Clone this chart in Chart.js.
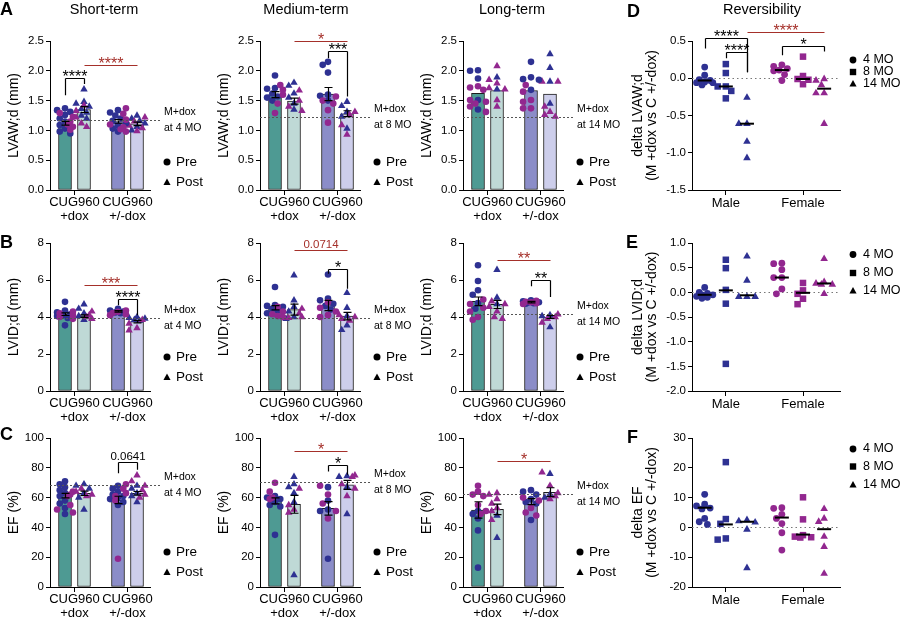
<!DOCTYPE html>
<html>
<head>
<meta charset="utf-8">
<title>CUG960 echo panels</title>
<script src="https://cdn.jsdelivr.net/npm/chart.js@4.4.1/dist/chart.umd.min.js"></script>
<style>
  html, body { margin: 0; padding: 0; background: #fff; }
  body { position: relative; width: 900px; height: 621px; overflow: hidden; }
  canvas { position: absolute; }
</style>
</head>
<body>
<script>
/* Echo panels A–F: bars + scatter (Chart.js) */
const FONT = "'Liberation Sans', Arial, Helvetica, sans-serif";
Chart.defaults.font.family = FONT;
Chart.defaults.color = '#000';

const BLUE = '#2E3192', PURPLE = '#92278F', RED = '#A5302A';
const BAR_FILL = ['#4E9A93', '#BFD9D6', '#8B8DC8', '#CDCEEB'];

// categories
const terms = ['Short-term', 'Medium-term', 'Long-term'];
const barGroups = [['CUG960', '+dox'], ['CUG960', '+/-dox']];
const phases = ['Pre', 'Post'];
const sexes = ['Male', 'Female'];
const ages = ['4 MO', '8 MO', '14 MO'];

// tick labels
const lvawTicks = [0, 0.5, 1, 1.5, 2, 2.5];
const lvidTicks = [0, 2, 4, 6, 8];
const efTicks = [0, 20, 40, 60, 80, 100];
const dLvawTicks = [-1.5, -1, -0.5, 0, 0.5];
const dLvidTicks = [-2, -1.5, -1, -0.5, 0, 0.5, 1];
const dEfTicks = [-20, -10, 0, 10, 20, 30];

// M+dox reference levels (short, medium, long)
const lvawRef = [1.17, 1.23, 1.23];
const lvidRef = [3.93, 3.93, 4.18];
const efRef = [68.5, 70.3, 62.2];

// A — LVAW;d, bars: +dox Pre, +dox Post, +/-dox Pre, +/-dox Post
const lvawShortMean = [1.12, 1.35, 1.15, 1.11];
const lvawShortSem = [0.03, 0.05, 0.03, 0.03];
const lvawShortBlue = [[1.37, 1.34, 1.31, 1.26, 1.20, 1.15, 1.09, 1.03, 0.98, 0.95], [1.69, 1.48, 1.45, 1.40, 1.36, 1.30, 1.25, 1.20], [1.34, 1.30, 1.25, 1.20, 1.16, 1.12, 1.08, 1.03, 0.98], [1.25, 1.20, 1.16, 1.12, 1.06, 1.00]];
const lvawShortPurple = [[1.29, 1.23, 1.15, 1.10, 1.06, 1.01], [1.42, 1.33, 1.22, 1.12, 1.06], [1.37, 1.28, 1.18, 1.10, 1.05, 1.02, 0.98], [1.22, 1.15, 1.08, 1.04, 0.99]];

const lvawMedMean = [1.60, 1.49, 1.61, 1.28];
const lvawMedSem = [0.05, 0.05, 0.11, 0.05];
const lvawMedBlue = [[1.92, 1.71, 1.70, 1.62, 1.57, 1.55, 1.50], [1.80, 1.75, 1.62, 1.55, 1.45, 1.35], [2.15, 2.10, 1.97, 1.60, 1.58, 1.50], [1.48, 1.41, 1.31, 1.23, 1.03]];
const lvawMedPurple = [[1.76, 1.68, 1.60, 1.45, 1.29], [1.67, 1.50, 1.40, 1.33], [1.57, 1.50, 1.45, 1.34, 1.13], [1.31, 1.26, 1.09, 0.93]];

const lvawLongMean = [1.62, 1.67, 1.67, 1.61];
const lvawLongSem = [0, 0, 0, 0];
const lvawLongBlue = [[2.01, 2.00, 1.87, 1.51, 1.35], [1.89, 1.69], [2.15, 1.89, 1.86, 1.85, 1.68], [2.28, 2.05, 1.82, 1.45]];
const lvawLongPurple = [[1.74, 1.72, 1.68, 1.51, 1.48, 1.45, 1.40, 1.31], [2.08, 1.85, 1.79, 1.71, 1.69, 1.51, 1.40], [1.76, 1.65, 1.51, 1.48, 1.37, 1.37], [1.82, 1.82, 1.40, 1.31, 1.26, 1.23]];

// B — LVID;d
const lvidShortMean = [4.15, 4.05, 4.30, 3.75];
const lvidShortSem = [0.07, 0.07, 0.04, 0.07];
const lvidShortBlue = [[4.82, 4.35, 4.25, 4.15, 4.10, 4.05, 3.95, 3.55], [4.68, 4.45, 4.20, 4.05, 3.85], [4.45, 4.35, 4.30, 4.25, 4.20], [4.00, 3.95, 3.92, 3.85, 3.80]];
const lvidShortPurple = [[4.30, 4.20, 4.10, 4.00, 3.90], [4.30, 4.10, 4.00, 3.90], [4.35, 4.28, 4.22, 4.15, 4.10], [3.85, 3.64, 3.40, 3.28]];

const lvidMedMean = [4.50, 4.40, 4.62, 4.05];
const lvidMedSem = [0.12, 0.30, 0.28, 0.20];
const lvidMedBlue = [[5.62, 4.65, 4.60, 4.55, 4.45, 4.35, 4.20], [6.25, 4.90, 4.55, 4.30, 4.00, 3.90], [6.30, 5.00, 4.90, 4.72, 4.60, 4.40], [5.30, 4.50, 4.05, 3.55, 3.30]];
const lvidMedPurple = [[4.55, 4.30, 4.15, 4.05, 4.00], [4.45, 4.20, 4.00, 3.95], [4.80, 4.50, 4.30, 4.10, 4.00], [4.10, 4.00, 3.90, 3.80]];

const lvidLongMean = [4.85, 4.68, 4.80, 4.00];
const lvidLongSem = [0.23, 0.22, 0.04, 0.08];
const lvidLongBlue = [[6.80, 5.95, 5.45, 5.20, 4.75, 4.45], [6.55, 5.05, 4.70], [4.90, 4.85, 4.80, 4.78, 4.75, 4.72], [4.10, 4.05, 3.45]];
const lvidLongPurple = [[4.95, 4.70, 4.50, 4.30, 4.00, 3.85], [4.85, 4.70, 4.55, 4.30, 4.00, 3.90], [4.88, 4.82, 4.80, 4.75, 4.70], [4.15, 4.00, 3.90, 3.70]];

// C — EF
const efShortMean = [61.3, 62.9, 58.4, 62.9];
const efShortSem = [1.5, 1.5, 2.5, 1.2];
const efShortBlue = [[71, 69, 67, 65, 63, 61, 58, 56, 53, 49], [69, 68, 66, 63, 60, 52], [68, 66, 64, 62, 61, 60, 59, 57, 55], [68, 66, 63, 61, 57]];
const efShortPurple = [[64, 62, 61, 55, 52, 50], [66, 64, 62, 61], [69, 66, 63, 61, 58, 19], [75, 71, 68, 65, 62, 60]];

const efMedMean = [57.8, 55.5, 52.8, 68.5];
const efMedSem = [2, 6, 4.5, 3];
const efMedBlue = [[61, 60, 59, 57, 55, 54, 35], [74, 69, 67, 63, 57, 8], [67, 58, 52, 51, 19], [74.5, 74, 67, 49]];
const efMedPurple = [[70, 64, 60, 59], [66, 55, 52, 50], [68, 62, 56, 51, 46], [75, 74, 69, 66, 61]];

const efLongMean = [51.7, 52.1, 57.3, 63.6];
const efLongSem = [5.5, 3.5, 2, 3];
const efLongBlue = [[51, 49, 46, 38, 13], [48, 33], [65, 64, 62, 59, 57, 56, 45], [76, 62, 60]];
const efLongPurple = [[68, 64, 62, 61, 55, 51, 49], [63, 62, 59, 56, 53, 51, 45], [60, 58, 53, 50, 48], [77, 68, 63, 61, 59]];

// D–F — deltas (M +dox vs C +/-dox), per age 4 / 8 / 14 MO
const dLvawMale = [[0.15, 0.04, -0.02, -0.03, -0.05, -0.06, -0.06, -0.09], [0.19, 0.07, -0.11, -0.11, -0.17, -0.27], [-0.26, -0.61, -0.61, -0.85, -1.07]];
const dLvawFemale = [[0.18, 0.16, 0.13, 0.11, 0.10, 0.05, -0.03], [0.29, 0.03, -0.01, -0.02, -0.08], [-0.01, -0.03, -0.09, -0.20, -0.20, -0.61]];
const dLvawMedMale = [-0.03, -0.11, -0.61];
const dLvawMedFemale = [0.11, -0.01, -0.14];

const dLvidMale = [[0.10, 0.00, -0.02, -0.05, -0.05, -0.08, -0.10, -0.12], [0.66, 0.49, 0.05, -0.23, -1.45], [0.73, 0.24, -0.09, -0.09, -0.09]];
const dLvidFemale = [[0.59, 0.58, 0.46, 0.30, 0.30, 0.07, -0.03], [0.19, 0.04, -0.03, -0.13, -0.24], [0.68, 0.21, 0.18, 0.16, 0.16, -0.03]];
const dLvidMedMale = [-0.05, 0.04, -0.06];
const dLvidMedFemale = [0.30, -0.01, 0.18];

const dEfMale = [[11.1, 7.8, 7.2, 6.5, 6.2, 3.0, 1.9, 1.0], [21.9, 2.8, 1.2, -3.7, -4.1], [2.5, 2.1, 1.7, -0.7, -13.6]];
const dEfFemale = [[6.6, 6.4, 4.4, 3.0, 1.3, -1.8, -7.6], [10.1, 2.7, -2.6, -3.1, -3.3, -3.4], [6.2, 3.0, 1.9, -3.1, -6.5, -15.5]];
const dEfMedMale = [6.6, 1.0, 1.9];
const dEfMedFemale = [3.3, -2.4, -0.6];

// layout (px) and category positions on the linear x scales
const colLeft = [50, 260, 463];
const rowY = [[41, 190], [243, 391], [438, 587]];
const barX = [0.75, 1.7, 3.4, 4.35];
const groupX = [1.225, 3.875];
const ageX = [0.6, 1.6, 2.6, 4.25, 5.25, 6.25];
const sexX = [1.6, 5.25];

// page canvas for panel letters and column titles
const page = document.createElement('canvas');
page.width = 900; page.height = 621;
page.style.left = '0px'; page.style.top = '0px';
document.body.appendChild(page);
(function () {
  const g = page.getContext('2d');
  g.fillStyle = '#000';
  g.textBaseline = 'alphabetic';
  g.font = 'bold 18px ' + FONT;
  [['A', 0, 15], ['B', 0, 248], ['C', 0, 440], ['D', 627, 17], ['E', 626, 248], ['F', 627, 443]]
    .forEach(([t, x, y]) => g.fillText(t, x, y));
  g.font = '14.5px ' + FONT;
  g.textAlign = 'center';
  [[terms[0], 104], [terms[1], 306], [terms[2], 512], ['Reversibility', 762]]
    .forEach(([t, x]) => g.fillText(t, x, 14));
})();

function swarm(vals, yPx, r, maxOff) {
  const step = r * 0.8;
  const cands = [0];
  for (let k = 1; k * step <= maxOff + 0.01; k++) cands.push(-k * step, k * step);
  const placed = [];
  return vals.map(v => {
    let best = 0, bestD = -1;
    for (const c of cands) {
      let dmin = Infinity;
      for (const p of placed) dmin = Math.min(dmin, Math.hypot(c - p[0], (v - p[1]) * yPx));
      if (dmin >= 1.8 * r) { best = c; break; }
      if (dmin > bestD) { bestD = dmin; best = c; }
    }
    placed.push([best, v]);
    return best;
  });
}

function marker(ctx, style, x, y, r) {
  ctx.beginPath();
  if (style === 'circle') ctx.arc(x, y, r, 0, Math.PI * 2);
  else if (style === 'rect') ctx.rect(x - r, y - r, 2 * r, 2 * r);
  else { ctx.moveTo(x, y - r * 1.15); ctx.lineTo(x + r * 1.05, y + r * 0.75); ctx.lineTo(x - r * 1.05, y + r * 0.75); ctx.closePath(); }
  ctx.fill();
}

function drawSig(ctx, xs, ys, s, xpos) {
  const xa = Math.round(xs.getPixelForValue(xpos[s.a])) + 0.5;
  const xb = Math.round(xs.getPixelForValue(xpos[s.b])) + 0.5;
  const yy = Math.round(ys.getPixelForValue(s.y)) + 0.5;
  const col = s.red ? RED : '#000';
  ctx.strokeStyle = col; ctx.fillStyle = col; ctx.lineWidth = 1.2;
  ctx.beginPath();
  ctx.moveTo(xa, yy); ctx.lineTo(xb, yy);
  if (s.ya != null) { ctx.moveTo(xa, yy); ctx.lineTo(xa, ys.getPixelForValue(s.ya)); }
  if (s.yb != null) { ctx.moveTo(xb, yy); ctx.lineTo(xb, ys.getPixelForValue(s.yb)); }
  ctx.stroke();
  ctx.textAlign = 'center'; ctx.textBaseline = 'alphabetic';
  if (/^\*+$/.test(s.text)) { ctx.font = '16px ' + FONT; ctx.fillText(s.text, (xa + xb) / 2, yy + 3); }
  else { ctx.font = '11.5px ' + FONT; ctx.fillText(s.text, (xa + xb) / 2, yy - 3); }
}

function yTitle(ctx, a, lines, offs, size) {
  ctx.fillStyle = '#000';
  ctx.font = size + 'px ' + FONT;
  ctx.textAlign = 'center'; ctx.textBaseline = 'middle';
  lines.forEach((t, i) => {
    ctx.save();
    ctx.translate(a.left - offs[i], (a.top + a.bottom) / 2);
    ctx.rotate(-Math.PI / 2);
    ctx.fillText(t, 0, 0);
    ctx.restore();
  });
}

function axisOpts(ticks, dec, width, size) {
  return {
    type: 'linear', min: ticks[0], max: ticks[ticks.length - 1],
    afterBuildTicks: s => { s.ticks = ticks.map(v => ({ value: v })); },
    afterFit: s => { s.width = width; },
    grid: { drawOnChartArea: false, drawTicks: true, tickLength: 4, color: '#000', lineWidth: 1 },
    border: { display: true, color: '#000', width: 1 },
    ticks: { padding: 2, color: '#000', font: { size: size }, callback: v => v.toFixed(dec) }
  };
}

function makeCanvas(left, top, w, h) {
  const cv = document.createElement('canvas');
  cv.width = w; cv.height = h;
  cv.style.left = left + 'px'; cv.style.top = top + 'px';
  document.body.appendChild(cv);
  return cv;
}

const legendRowY = [[-28, -7.5], [-34, -13.5], [-35, -14.5]];

function barPanel(col, row, mean, sem, blue, purple, ticks, dec, title, ref, sig) {
  const W = 100, YW = 60, PT = 42, PR = 75, XH = 36;
  const [top, bottom] = rowY[row];
  const H = bottom - top;
  const cv = makeCanvas(colLeft[col] - YW, top - PT, YW + W + PR, PT + H + XH);
  const yPx = H / (ticks[ticks.length - 1] - ticks[0]), xPx = W / 5;

  const datasets = [{
    type: 'bar', order: 3,
    data: mean.map((m, i) => ({ x: barX[i], y: m })),
    backgroundColor: BAR_FILL, borderColor: '#1c1c1c', borderWidth: 1, barThickness: 13, borderSkipped: false
  }];
  mean.forEach((m, i) => {
    const vals = blue[i].concat(purple[i]);
    const cols = blue[i].map(() => BLUE).concat(purple[i].map(() => PURPLE));
    const offs = swarm(vals, yPx, 3.3, 8);
    datasets.push({
      type: 'scatter', order: 1,
      data: vals.map((v, k) => ({ x: barX[i] + offs[k] / xPx, y: v })),
      pointStyle: i % 2 ? 'triangle' : 'circle',
      pointRadius: i % 2 ? 4.3 : 3.3,
      pointBackgroundColor: cols, pointBorderWidth: 0
    });
  });

  const decor = {
    id: 'decor',
    afterDatasetsDraw(chart) {
      const { ctx, chartArea: a, scales: { x, y } } = chart;
      ctx.save();
      // error bars (mean ± SEM)
      ctx.strokeStyle = '#000'; ctx.lineWidth = 1.2;
      mean.forEach((m, i) => {
        if (!sem[i]) return;
        const px = Math.round(x.getPixelForValue(barX[i])) + 0.5;
        const y1 = y.getPixelForValue(m + sem[i]), y2 = y.getPixelForValue(m - sem[i]);
        ctx.beginPath();
        ctx.moveTo(px, y1); ctx.lineTo(px, y2);
        ctx.moveTo(px - 4, y1); ctx.lineTo(px + 4, y1);
        ctx.moveTo(px - 4, y2); ctx.lineTo(px + 4, y2);
        ctx.stroke();
      });
      // M+dox reference line
      const ry = Math.round(y.getPixelForValue(ref)) + 0.5;
      ctx.strokeStyle = '#555'; ctx.lineWidth = 1; ctx.setLineDash([2, 2]);
      ctx.beginPath(); ctx.moveTo(a.left, ry); ctx.lineTo(a.right + 10, ry); ctx.stroke();
      ctx.setLineDash([]);
      ctx.fillStyle = '#000'; ctx.font = '10.5px ' + FONT; ctx.textAlign = 'left'; ctx.textBaseline = 'middle';
      ctx.fillText('M+dox', a.right + 14, ry - 8);
      ctx.fillText('at ' + ages[col], a.right + 14, ry + 8);
      // significance
      sig.forEach(s => drawSig(ctx, x, y, s, barX));
      // legend
      ctx.fillStyle = '#000'; ctx.font = '13.5px ' + FONT; ctx.textAlign = 'left'; ctx.textBaseline = 'middle';
      phases.forEach((t, i) => {
        const ly = a.bottom + legendRowY[row][i];
        marker(ctx, i ? 'triangle' : 'circle', a.right + 17, ly, i ? 3.4 : 3.5);
        ctx.fillText(t, a.right + 26, ly);
      });
      yTitle(ctx, a, [title], [36], 14);
      ctx.restore();
    }
  };

  new Chart(cv, {
    type: 'bar',
    data: { datasets },
    options: {
      responsive: false, animation: false, events: [],
      layout: { padding: { left: 0, top: PT, right: PR, bottom: 0 }, autoPadding: false },
      plugins: { legend: { display: false }, tooltip: { enabled: false } },
      scales: {
        x: {
          type: 'linear', min: 0, max: 5, offset: false,
          afterBuildTicks: s => { s.ticks = groupX.map(v => ({ value: v })); },
          afterFit: s => { s.height = XH; },
          grid: { offset: false, drawOnChartArea: false, drawTicks: true, tickLength: 5, color: '#000', lineWidth: 1 },
          border: { display: true, color: '#000', width: 1 },
          ticks: { autoSkip: false, maxRotation: 0, padding: 1, color: '#000', font: { size: 13, lineHeight: 1.05 }, callback: (v, i) => barGroups[i] }
        },
        y: axisOpts(ticks, dec, YW, 11.5)
      }
    },
    plugins: [decor]
  });
}

const legendDeltaY = [[19, 31, 43], [11.5, 30, 48], [11, 28.5, 47]];

function deltaPanel(row, male, female, medMale, medFemale, ticks, dec, titleLines, sig) {
  const W = 148, YW = 75, PT = 42, PR = 62, XH = 36;
  const [top, bottom] = rowY[row];
  const H = bottom - top;
  const cv = makeCanvas(692 - YW, top - PT, YW + W + PR, PT + H + XH);
  const yPx = H / (ticks[ticks.length - 1] - ticks[0]), xPx = W / 7;
  const styles = ['circle', 'rect', 'triangle'];
  const radii = [3.4, 4.6, 4.4];

  const datasets = [];
  [male, female].forEach((grp, si) => {
    grp.forEach((vals, ai) => {
      const offs = swarm(vals, yPx, 3.4, 10);
      const cx = ageX[si * 3 + ai];
      datasets.push({
        type: 'scatter',
        data: vals.map((v, k) => ({ x: cx + offs[k] / xPx, y: v })),
        pointStyle: styles[ai], pointRadius: radii[ai],
        pointBackgroundColor: si ? PURPLE : BLUE, pointBorderWidth: 0
      });
    });
  });

  const decor = {
    id: 'decor',
    beforeDatasetsDraw(chart) {
      const { ctx, chartArea: a, scales: { y } } = chart;
      const zy = Math.round(y.getPixelForValue(0)) + 0.5;
      ctx.save();
      ctx.strokeStyle = '#777'; ctx.lineWidth = 1.2; ctx.setLineDash([1.5, 3]);
      ctx.beginPath(); ctx.moveTo(a.left, zy); ctx.lineTo(a.right, zy); ctx.stroke();
      ctx.restore();
    },
    afterDatasetsDraw(chart) {
      const { ctx, chartArea: a, scales: { x, y } } = chart;
      ctx.save();
      // medians
      ctx.strokeStyle = '#000'; ctx.lineWidth = 2;
      medMale.concat(medFemale).forEach((m, i) => {
        const px = x.getPixelForValue(ageX[i]), py = y.getPixelForValue(m);
        ctx.beginPath(); ctx.moveTo(px - 7, py); ctx.lineTo(px + 7, py); ctx.stroke();
      });
      sig.forEach(s => drawSig(ctx, x, y, s, ageX));
      // legend
      ctx.fillStyle = '#000'; ctx.font = '12.5px ' + FONT; ctx.textAlign = 'left'; ctx.textBaseline = 'middle';
      ages.forEach((t, i) => {
        const ly = a.top + legendDeltaY[row][i];
        marker(ctx, styles[i], a.right + 13, ly, i === 1 ? 3.2 : 3.4);
        ctx.fillText(t, a.right + 23, ly);
      });
      yTitle(ctx, a, titleLines, [54, 40], 14);
      ctx.restore();
    }
  };

  new Chart(cv, {
    type: 'scatter',
    data: { datasets },
    options: {
      responsive: false, animation: false, events: [],
      layout: { padding: { left: 0, top: PT, right: PR, bottom: 0 }, autoPadding: false },
      plugins: { legend: { display: false }, tooltip: { enabled: false } },
      scales: {
        x: {
          type: 'linear', min: 0, max: 7, offset: false,
          afterBuildTicks: s => { s.ticks = sexX.map(v => ({ value: v })); },
          afterFit: s => { s.height = XH; },
          grid: { drawOnChartArea: false, drawTicks: true, tickLength: 5, color: '#000', lineWidth: 1 },
          border: { display: true, color: '#000', width: 1 },
          ticks: { autoSkip: false, maxRotation: 0, padding: 1, color: '#000', font: { size: 13 }, callback: (v, i) => sexes[i] }
        },
        y: axisOpts(ticks, dec, YW, 11.5)
      }
    },
    plugins: [decor]
  });
}

// significance marks: a/b = bar (or age group) index, y = bracket level, ya/yb = leg ends
barPanel(0, 0, lvawShortMean, lvawShortSem, lvawShortBlue, lvawShortPurple, lvawTicks, 1, 'LVAW;d (mm)', lvawRef[0], [
  { a: 0, b: 1, y: 1.88, ya: 1.59, yb: 1.78, text: '****' },
  { a: 1, b: 3, y: 2.10, text: '****', red: true }]);
barPanel(1, 0, lvawMedMean, lvawMedSem, lvawMedBlue, lvawMedPurple, lvawTicks, 1, 'LVAW;d (mm)', lvawRef[1], [
  { a: 2, b: 3, y: 2.33, ya: 2.21, yb: 1.57, text: '***' },
  { a: 1, b: 3, y: 2.50, text: '*', red: true }]);
barPanel(2, 0, lvawLongMean, lvawLongSem, lvawLongBlue, lvawLongPurple, lvawTicks, 1, 'LVAW;d (mm)', lvawRef[2], []);

barPanel(0, 1, lvidShortMean, lvidShortSem, lvidShortBlue, lvidShortPurple, lvidTicks, 0, 'LVID;d (mm)', lvidRef[0], [
  { a: 2, b: 3, y: 4.99, ya: 4.63, yb: 4.09, text: '****' },
  { a: 1, b: 3, y: 5.71, text: '***', red: true }]);
barPanel(1, 1, lvidMedMean, lvidMedSem, lvidMedBlue, lvidMedPurple, lvidTicks, 0, 'LVID;d (mm)', lvidRef[1], [
  { a: 2, b: 3, y: 6.61, ya: 6.34, yb: 5.53, text: '*' },
  { a: 1, b: 3, y: 7.60, text: '0.0714', red: true }]);
barPanel(2, 1, lvidLongMean, lvidLongSem, lvidLongBlue, lvidLongPurple, lvidTicks, 0, 'LVID;d (mm)', lvidRef[2], [
  { a: 2, b: 3, y: 6.02, ya: 5.66, yb: 5.08, text: '**' },
  { a: 1, b: 3, y: 7.06, text: '**', red: true }]);

barPanel(0, 2, efShortMean, efShortSem, efShortBlue, efShortPurple, efTicks, 0, 'EF (%)', efRef[0], [
  { a: 2, b: 3, y: 83.8, ya: 76.4, yb: 78.7, text: '0.0641' }]);
barPanel(1, 2, efMedMean, efMedSem, efMedBlue, efMedPurple, efTicks, 0, 'EF (%)', efRef[1], [
  { a: 2, b: 3, y: 82, ya: 77.5, yb: 75.3, text: '*' },
  { a: 1, b: 3, y: 91, text: '*', red: true }]);
barPanel(2, 2, efLongMean, efLongSem, efLongBlue, efLongPurple, efTicks, 0, 'EF (%)', efRef[2], [
  { a: 1, b: 3, y: 84.7, text: '*', red: true }]);

deltaPanel(0, dLvawMale, dLvawFemale, dLvawMedMale, dLvawMedFemale, dLvawTicks, 1, ['delta LVAW;d', '(M +dox vs C +/-dox)'], [
  { a: 0, b: 2, y: 0.54, ya: 0.40, yb: 0.08, text: '****' },
  { a: 1, b: 2, y: 0.35, ya: 0.27, yb: 0.08, text: '****' },
  { a: 2, b: 5, y: 0.62, text: '****', red: true },
  { a: 3, b: 5, y: 0.43, ya: 0.31, yb: 0.36, text: '*' }]);
deltaPanel(1, dLvidMale, dLvidFemale, dLvidMedMale, dLvidMedFemale, dLvidTicks, 1, ['delta LVID;d', '(M +dox vs C +/-dox)'], []);
deltaPanel(2, dEfMale, dEfFemale, dEfMedMale, dEfMedFemale, dEfTicks, 0, ['delta EF', '(M +dox vs C +/-dox)'], []);
</script>
</body>
</html>
